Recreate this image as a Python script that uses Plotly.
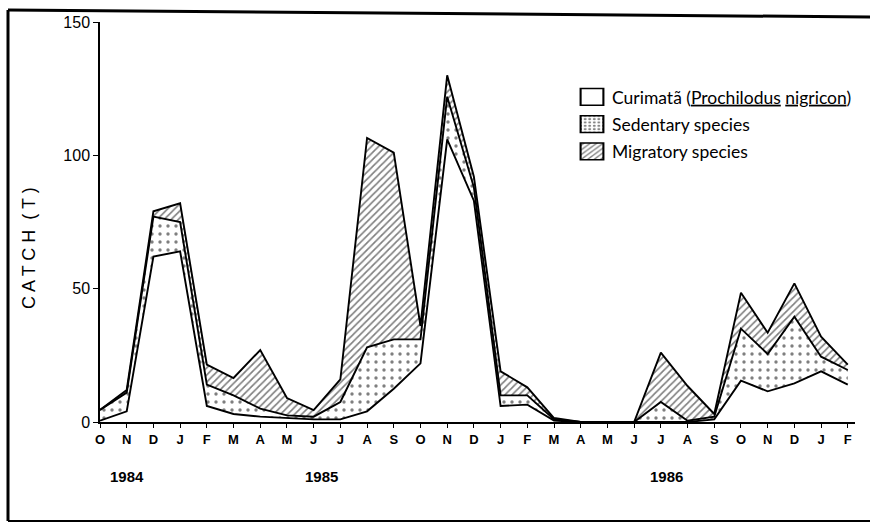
import plotly.graph_objects as go

months = ["O", "N", "D", "J", "F", "M", "A", "M", "J", "J", "A", "S",
          "O", "N", "D", "J", "F", "M", "A", "M", "J", "J", "A", "S",
          "O", "N", "D", "J", "F"]
years = ["1984", "1985", "1986"]
year_pos = [1, 8.3, 21.2]

curimata = [0.5, 4, 62, 64, 6, 3, 2, 1.5, 1, 1, 4, 12.5, 22, 106, 83, 6, 6.5,
            0.5, 0, 0, 0, 0, 0, 1, 15.5, 11.5, 14.5, 19, 14]
sedentary = [4, 7, 15, 11, 8, 7, 3, 1, 1, 6.5, 24, 18.5, 9, 16, 5, 4, 3.5,
             0.5, 0, 0, 0, 7.5, 0.5, 1, 19.5, 14, 25, 5.5, 5.5]
migratory = [0, 1, 2, 7, 7.5, 6.5, 22, 6.5, 2.5, 8.5, 78.5, 70, 5, 8, 4, 9, 3,
             0.5, 0, 0, 0, 18.5, 13, 1, 13.5, 8, 12.5, 7.5, 2]

x = list(range(len(months)))
line = dict(color="black", width=1.9)

dots = dict(shape=".", fgcolor="black", bgcolor="white", size=8, solidity=0.14)
hatch = dict(shape="/", fgcolor="black", bgcolor="white", size=5, solidity=0.33)

fig = go.Figure()
fig.add_trace(go.Scatter(x=x, y=curimata, stackgroup="one", mode="lines",
                         line=line, fillcolor="white", showlegend=False,
                         name="Curimatã"))
fig.add_trace(go.Scatter(x=x, y=sedentary, stackgroup="one", mode="lines",
                         line=line, showlegend=False, name="Sedentary species",
                         fillpattern=dots))
fig.add_trace(go.Scatter(x=x, y=migratory, stackgroup="one", mode="lines",
                         line=line, showlegend=False, name="Migratory species",
                         fillpattern=hatch))

# legend entries
leg = [
    ("Curimatã (<u>Prochilodus</u> <u>nigricon</u>)", None),
    ("Sedentary species", dict(shape=".", fgcolor="black", bgcolor="white", size=3, solidity=0.3)),
    ("Migratory species", dict(shape="/", fgcolor="black", bgcolor="white", size=3, solidity=0.35)),
]
for i, (nm, pat) in enumerate(leg):
    marker = dict(color="white", line=dict(color="black", width=1.1))
    if pat:
        marker["pattern"] = pat
    fig.add_trace(go.Bar(x=[None], y=[None], name=nm, marker=marker,
                         legendgroup="g%d" % i, showlegend=True))

W, H = 870, 526
ml, mr, mt, mb = 100, 15, 22, 104
pw, ph = W - ml - mr, H - mt - mb


def px(v):
    return (v - ml) / pw


def py(v):
    return (H - mb - v) / ph


shapes = [
    dict(type="line", xref="paper", yref="paper", x0=px(8), x1=px(8), y0=py(10), y1=py(521),
         line=dict(color="black", width=3)),
    dict(type="line", xref="paper", yref="paper", x0=px(8), x1=px(870), y0=py(10), y1=py(17),
         line=dict(color="black", width=3)),
    dict(type="line", xref="paper", yref="paper", x0=px(8), x1=px(870), y0=py(521), y1=py(521),
         line=dict(color="black", width=2)),
]

annotations = [
    dict(x=p, y=py(476), xref="x", yref="paper", text=t, showarrow=False,
         xanchor="center", yanchor="middle",
         font=dict(family="Liberation Sans", size=15, color="black", weight="bold"))
    for p, t in zip(year_pos, years)
]
annotations.append(dict(x=px(29), y=py(248), xref="paper", yref="paper",
                        xanchor="center", yanchor="middle",
                        text="C A T C H  ( T )", textangle=-90, showarrow=False,
                        font=dict(family="Liberation Sans", size=18, color="black")))

fig.update_layout(
    width=W, height=H,
    margin=dict(l=ml, r=mr, t=mt, b=mb),
    paper_bgcolor="white", plot_bgcolor="white",
    shapes=shapes, annotations=annotations,
    legend=dict(x=px(572), y=py(79), xanchor="left", yanchor="top",
                font=dict(family="Lato", size=17.5, color="black"),
                tracegroupgap=1.5, traceorder="grouped", bgcolor="rgba(0,0,0,0)"),
    xaxis=dict(range=[0, 28.27], tickmode="array", tickvals=x, ticktext=months,
               showgrid=False, zeroline=False, showline=True, linecolor="black",
               linewidth=2, ticks="outside", ticklen=4, tickcolor="black",
               tickfont=dict(family="Liberation Sans", size=13, color="black", weight="bold")),
    yaxis=dict(range=[0, 150], tickvals=[0, 50, 100, 150], showgrid=False,
               zeroline=False, showline=True, linecolor="black", linewidth=1.5,
               ticks="outside", ticklen=5, tickcolor="black",
               tickfont=dict(family="Liberation Sans", size=16, color="black")),
)

post = """
document.body.style.margin='0';
var gd=document.getElementById('{plot_id}');
gd.querySelectorAll('.legendpoints path').forEach(function(p){
  p.setAttribute('transform', (p.getAttribute('transform')||'') + ' scale(1.9,1.4)');
});
"""

fig.write_html("out.html", post_script=post, config={"displayModeBar": False})
